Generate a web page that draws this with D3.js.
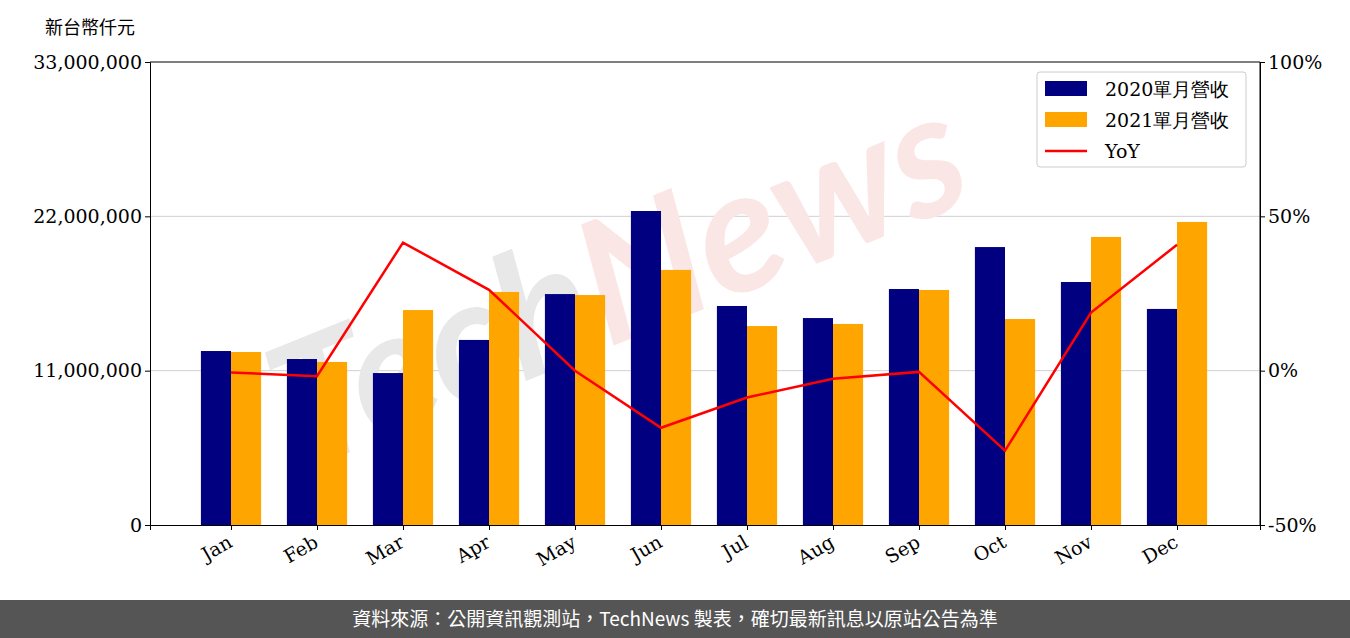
<!DOCTYPE html>
<html><head><meta charset="utf-8">
<script src="https://cdn.jsdelivr.net/npm/d3@7"></script>
<style>body{margin:0;background:#fff}svg{display:block}</style>
</head><body><div id="chart"></div>
<script>
const months = ['Jan','Feb','Mar','Apr','May','Jun','Jul','Aug','Sep','Oct','Nov','Dec'];
const rev2020 = [12.40,11.83,10.83,13.19,16.46,22.38,15.61,14.75,16.82,19.81,17.32,15.40].map(v => v * 1e6);
const rev2021 = [12.33,11.62,15.32,16.61,16.39,18.18,14.18,14.33,16.75,14.68,20.53,21.60].map(v => v * 1e6);
const yoy = [-0.6,-1.8,41.5,26.2,0.0,-18.5,-8.7,-2.6,-0.4,-25.9,18.8,40.8];
const leftTicks = [0, 11e6, 22e6, 33e6];
const rightTicks = [-50, 0, 50, 100];

const W = 1350, H = 638;
const m = {l: 150, r: 1260, t: 62, b: 525};
const serif = 'DejaVu Serif, serif';
const cjk = '"Noto Sans CJK TC", sans-serif';

const svg = d3.select('#chart').append('svg').attr('width', W).attr('height', H);

const x = d3.scaleLinear().domain([-0.942, 11.965]).range([m.l, m.r]);
const y = d3.scaleLinear().domain([0, 33e6]).range([m.b, m.t]);
const y2 = d3.scaleLinear().domain([-50, 100]).range([m.b, m.t]);
const bw = x(0.35) - x(0);

// gridlines
svg.append('g').selectAll('line').data([11e6, 22e6]).join('line')
  .attr('x1', m.l).attr('x2', m.r).attr('y1', d => y(d)).attr('y2', d => y(d))
  .attr('stroke', '#d0d0d0').attr('stroke-width', 1);

// watermark
const wm = svg.append('text')
  .attr('transform', 'translate(640,335) rotate(-22)')
  .attr('text-anchor', 'middle').attr('font-family', 'Lato, sans-serif')
  .attr('font-weight', 'bold').attr('font-style', 'italic').attr('font-size', 172);
wm.append('tspan').text('Tech').attr('fill', '#e8e8e8');
wm.append('tspan').text('News').attr('fill', '#fbe6e6');

svg.append('g').selectAll('rect').data(rev2020).join('rect')
  .attr('x', (d, i) => x(i) - bw).attr('width', bw)
  .attr('y', d => y(d)).attr('height', d => m.b - y(d)).attr('fill', '#000080');
svg.append('g').selectAll('rect').data(rev2021).join('rect')
  .attr('x', (d, i) => x(i)).attr('width', bw)
  .attr('y', d => y(d)).attr('height', d => m.b - y(d)).attr('fill', '#ffa500');

svg.append('path').datum(yoy)
  .attr('d', d3.line().x((d, i) => x(i)).y(d => y2(d)))
  .attr('fill', 'none').attr('stroke', '#ff0000').attr('stroke-width', 2.5);

// axes
const gl = svg.append('g').attr('transform', `translate(${m.l},0)`)
  .call(d3.axisLeft(y).tickValues(leftTicks).tickFormat(d3.format(',')).tickSizeOuter(0).tickSize(5));
const gr = svg.append('g').attr('transform', `translate(${m.r},0)`)
  .call(d3.axisRight(y2).tickValues(rightTicks).tickFormat(d => d + '%').tickSizeOuter(0).tickSize(5));
const gb = svg.append('g').attr('transform', `translate(0,${m.b})`)
  .call(d3.axisBottom(x).tickValues(d3.range(12)).tickFormat(i => months[i]).tickSizeOuter(0).tickSize(5));
[gl, gr, gb].forEach(g => {
  g.selectAll('text').attr('font-family', serif).attr('font-size', 19).attr('fill', '#000');
  g.selectAll('line,path').attr('stroke', '#000');
});
gb.selectAll('text').attr('text-anchor', 'end').attr('dy', 0)
  .attr('transform', 'translate(-2,14) rotate(-30)');
svg.append('line').attr('x1', m.l).attr('x2', m.r).attr('y1', m.t).attr('y2', m.t).attr('stroke', '#000');
svg.append('line').attr('x1', m.r).attr('x2', m.r).attr('y1', m.t).attr('y2', m.b).attr('stroke', '#000');

svg.append('text').text('新台幣仟元').attr('x', 45).attr('y', 34)
  .attr('font-family', cjk).attr('font-size', 18);

// legend
const lg = svg.append('g').attr('transform', 'translate(1037,72)');
lg.append('rect').attr('width', 209).attr('height', 95).attr('rx', 3)
  .attr('fill', '#fff').attr('fill-opacity', 0.8).attr('stroke', '#ccc');
const items = [['2020單月營收', '#000080', 'rect'], ['2021單月營收', '#ffa500', 'rect'], ['YoY', '#ff0000', 'line']];
items.forEach(([t, c, k], i) => {
  const yy = 17 + i * 31;
  if (k === 'rect') lg.append('rect').attr('x', 8).attr('y', yy - 8).attr('width', 42).attr('height', 15).attr('fill', c);
  else lg.append('line').attr('x1', 8).attr('x2', 50).attr('y1', yy).attr('y2', yy).attr('stroke', c).attr('stroke-width', 2.5);
  lg.append('text').text(t).attr('x', 68).attr('y', yy + 7)
    .attr('font-family', serif).attr('font-size', 19);
});

// footer
svg.append('rect').attr('x', 0).attr('y', 600).attr('width', W).attr('height', 38).attr('fill', '#555');
svg.append('text').text('資料來源：公開資訊觀測站，TechNews 製表，確切最新訊息以原站公告為準')
  .attr('x', W / 2).attr('y', 626).attr('text-anchor', 'middle')
  .attr('font-family', cjk).attr('font-size', 19).attr('fill', '#fff');
</script></body></html>
